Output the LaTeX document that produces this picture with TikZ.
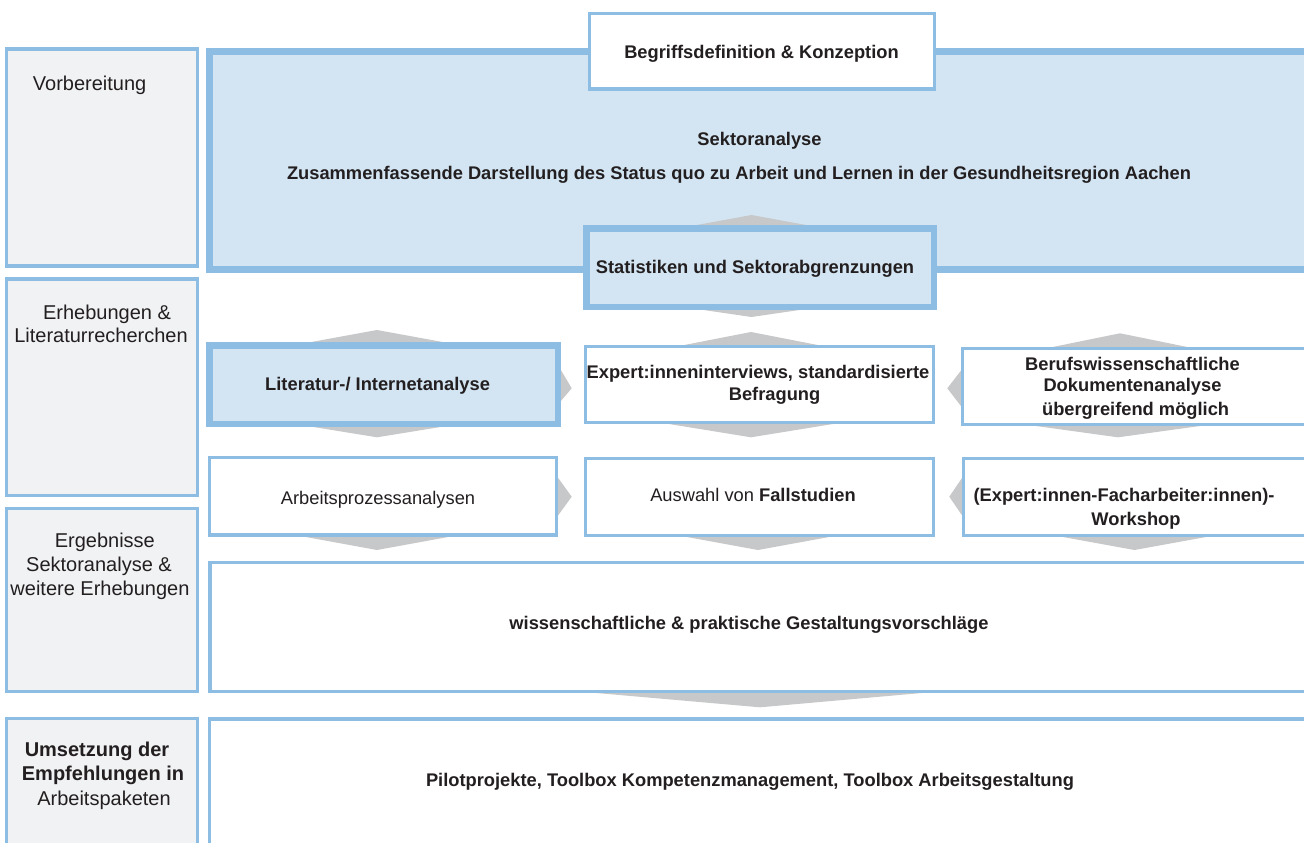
\documentclass[tikz,border=0pt]{standalone}
\usepackage{fontspec}
\setmainfont{Liberation Sans}
\definecolor{bblue}{HTML}{8EBDE3}
\definecolor{lblue}{HTML}{D3E5F3}
\definecolor{lgray}{HTML}{F1F2F4}
\definecolor{chev}{HTML}{C7C8CA}
\definecolor{txt}{HTML}{231F20}
\tikzset{
  thinbox/.style={draw=bblue, line width=3.3pt, fill=white, inner sep=0pt},
  thickbox/.style={draw=bblue, line width=6.5pt, fill=lblue, inner sep=0pt},
  sidebox/.style={draw=bblue, line width=3.3pt, fill=lgray, inner sep=0pt},
  chevron/.style={fill=chev, draw=none},
  lb/.style={font=\fontsize{18.3}{22}\selectfont\bfseries, text=txt, anchor=base, inner sep=0pt},
  lr/.style={font=\fontsize{18.3}{22}\selectfont, text=txt, anchor=base, inner sep=0pt},
  sr/.style={font=\fontsize{20}{24}\selectfont, text=txt, anchor=base, inner sep=0pt},
  sb/.style={font=\fontsize{20}{24}\selectfont\bfseries, text=txt, anchor=base, inner sep=0pt},
}
\begin{document}
\begin{tikzpicture}[x=1pt,y=-1pt]
\useasboundingbox (0,0) rectangle (1304,843);
\clip (0,0) rectangle (1304,843);
\fill[white] (0,0) rectangle (1304,843);

% left column
\node[sidebox, minimum width=191.1pt, minimum height=217pt] (vorbox) at (102.25,157.5) {};
\node[sidebox, minimum width=191.1pt, minimum height=216.6pt] (erhbox) at (102.25,387.3) {};
\node[sidebox, minimum width=191.1pt, minimum height=183.2pt] (ergbox) at (102.25,600) {};
\node[sidebox, minimum width=191.1pt, minimum height=181.6pt] (umsbox) at (102.25,809.2) {};

% big Sektoranalyse box
\node[thickbox, minimum width=1130.5pt, minimum height=218pt] (sekbox) at (774.75,160.7) {};

% chevrons
\fill[chevron] (669.5,230) -- (751.5,215) -- (833.5,230) -- cycle;
\fill[chevron] (669.5,305) -- (751.5,317) -- (833.5,305) -- cycle;
\fill[chevron] (295,345) -- (377,330) -- (459,345) -- cycle;
\fill[chevron] (669,348) -- (751,332) -- (833,348) -- cycle;
\fill[chevron] (1038,350) -- (1120,333.3) -- (1202,350) -- cycle;
\fill[chevron] (295,424) -- (377,437.3) -- (459,424) -- cycle;
\fill[chevron] (669,424) -- (751,437.3) -- (833,424) -- cycle;
\fill[chevron] (1036,426) -- (1118,437.3) -- (1200,426) -- cycle;
\fill[chevron] (295,535) -- (377,550) -- (459,535) -- cycle;
\fill[chevron] (676,535) -- (758,550) -- (840,535) -- cycle;
\fill[chevron] (1052,535) -- (1134.5,550) -- (1217,535) -- cycle;
\fill[chevron] (585,692) -- (760,707.3) -- (933,692) -- cycle;
\fill[chevron] (556,361.7) -- (571.7,388.3) -- (556,406.7) -- cycle;
\fill[chevron] (556,475) -- (571.7,496.7) -- (556,518.3) -- cycle;
\fill[chevron] (964,366.7) -- (947.3,388.3) -- (964,410) -- cycle;
\fill[chevron] (964,475) -- (949.3,496.7) -- (964,518.3) -- cycle;

% boxes
\node[thinbox, minimum width=344.6pt, minimum height=75.6pt] (begbox) at (762,51.2) {};
\node[thickbox, minimum width=347.5pt, minimum height=78.5pt] (statbox) at (760,267.5) {};
\node[thickbox, minimum width=348.5pt, minimum height=78.5pt] (litbox) at (383.5,384.5) {};
\node[thinbox, minimum width=347.6pt, minimum height=75.6pt] (expbox) at (759.5,384.5) {};
\node[thinbox, minimum width=377.6pt, minimum height=75.9pt] (berbox) at (1151.2,386.35) {};
\node[thinbox, minimum width=347.1pt, minimum height=77.3pt] (arbbox) at (383.25,496.35) {};
\node[thinbox, minimum width=347.6pt, minimum height=77.2pt] (auswbox) at (759.5,497) {};
\node[thinbox, minimum width=376.6pt, minimum height=76.9pt] (wsbox) at (1151.7,497.15) {};
\node[thinbox, minimum width=1130pt, minimum height=129.2pt] (gestbox) at (775,627) {};
\node[thinbox, minimum width=1130.8pt, minimum height=181pt] (pilbox) at (774.6,809.5) {};

% left column texts
\node[sr] (vor) at (89.6,90) {Vorbereitung};
\node[sr] (erh1) at (107,319.3) {Erhebungen \&};
\node[sr] (erh2) at (101,342.7) {Literaturrecherchen};
\node[sr] (erg1) at (104.8,547.5) {Ergebnisse};
\node[sr] (erg2) at (99,571.7) {Sektoranalyse \&};
\node[sr] (erg3) at (100,595) {weitere Erhebungen};
\node[sb] (ums1) at (97,756) {Umsetzung der};
\node[sb] (ums2) at (103,780) {Empfehlungen in};
\node[sr] (ums3) at (104,805) {Arbeitspaketen};

% box texts
\node[lb] (beg) at (761.5,58.3) {Begriffsdefinition \& Konzeption};
\node[lb] (sek) at (759.5,145.7) {Sektoranalyse};
\node[lb] (zus) at (739,179) {Zusammenfassende Darstellung des Status quo zu Arbeit und Lernen in der Gesundheitsregion Aachen};
\node[lb] (stat) at (755,273.3) {Statistiken und Sektorabgrenzungen};
\node[lb] (lit) at (377.6,390.7) {Literatur-/ Internetanalyse};
\node[lb] (exp1) at (758,378.3) {Expert:inneninterviews, standardisierte};
\node[lb] (exp2) at (774.6,400) {Befragung};
\node[lb] (ber1) at (1132.5,370) {Berufswissenschaftliche};
\node[lb] (ber2) at (1132.5,391.7) {Dokumentenanalyse};
\node[lb] (ber3) at (1135.6,415) {übergreifend möglich};
\node[lr] (arb) at (378,504) {Arbeitsprozessanalysen};
\node[lr] (ausw) at (753,501.7) {Auswahl von \textbf{Fallstudien}};
\node[lb] (ws1) at (1124,501.7) {(Expert:innen-Facharbeiter:innen)-};
\node[lb] (ws2) at (1136,525) {Workshop};
\node[lb] (gest) at (749,629.3) {wissenschaftliche \& praktische Gestaltungsvorschläge};
\node[lb] (pil) at (750,786.7) {Pilotprojekte, Toolbox Kompetenzmanagement, Toolbox Arbeitsgestaltung};
\end{tikzpicture}
\end{document}
